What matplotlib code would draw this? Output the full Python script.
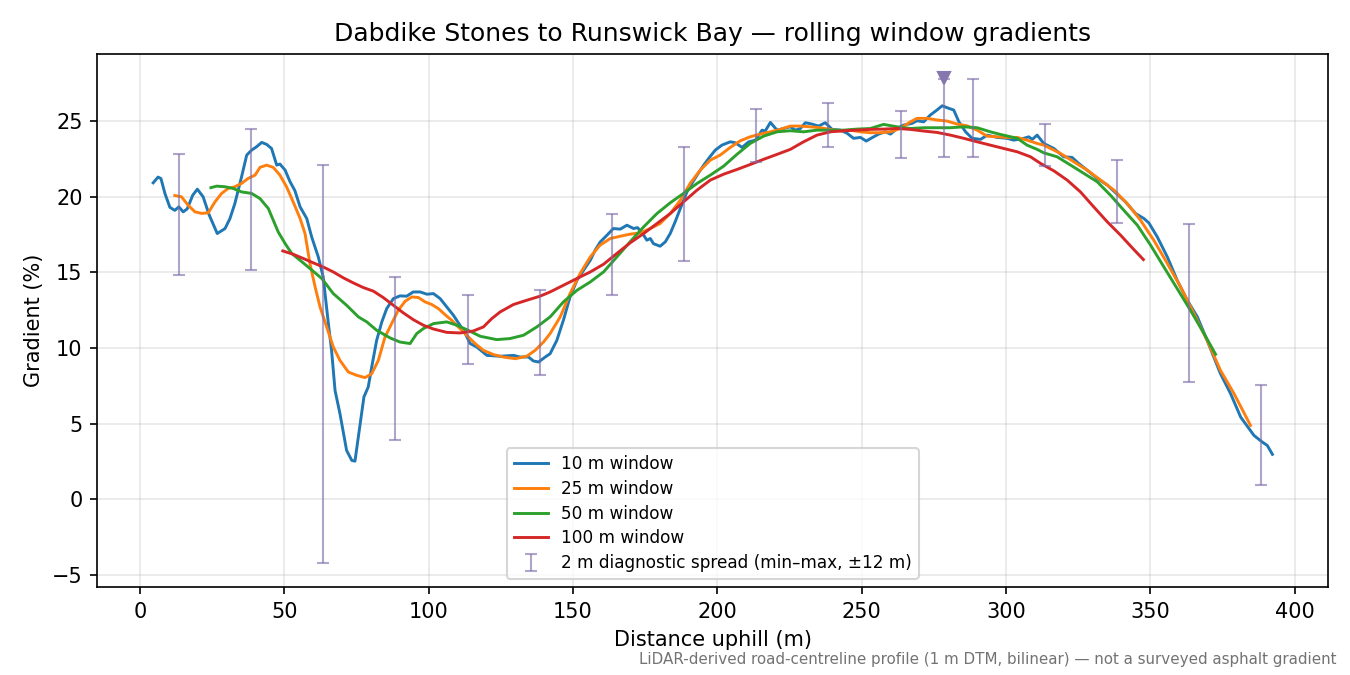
import matplotlib
matplotlib.use("Agg")
import matplotlib.pyplot as plt

# ---- data ----
x10 = [4.6, 6.3, 7.3, 8.7, 10.4, 12.1, 13.5, 15.0, 16.4, 18.3, 19.9, 21.9, 24.0, 26.8, 29.5, 31.2, 32.9,
       35.2, 37.0, 38.7, 40.4, 42.2, 43.9, 45.6, 47.4, 48.5, 50.3, 52.0, 53.7, 55.5, 57.8, 59.5, 61.8,
       63.5, 65.3, 66.4, 67.6, 69.3, 71.6, 73.4, 74.5, 76.3, 77.6, 79.1, 80.3, 82.0, 83.8, 85.5, 87.8,
       90.1, 92.4, 94.7, 97.1, 99.4, 101.7, 104.0, 106.3, 108.6, 110.9, 112.7, 114.4, 116.7, 120.2,
       124.8, 129.4, 131.7, 134.6, 136.3, 138.1, 140.4, 142.1, 144.4, 146.7, 149.0, 151.4, 153.7,
       156.0, 157.7, 159.4, 161.8, 164.0, 166.4, 168.7, 171.0, 172.4, 174.5, 175.6, 176.8, 177.9,
       180.2, 182.0, 183.7, 185.4, 187.2, 189.5, 191.2, 193.0, 195.3, 197.0, 199.3, 201.6, 204.5,
       206.2, 208.6, 210.9, 213.2, 215.5, 216.6, 218.4, 220.7, 223.0, 225.3, 227.0, 228.8, 230.5,
       232.8, 235.1, 237.4, 239.8, 242.6, 245.0, 247.2, 249.6, 251.6, 253.6, 255.9, 258.2, 260.0,
       262.3, 264.6, 267.5, 269.2, 271.5, 273.8, 276.1, 277.9, 280.2, 281.9, 283.7, 286.0, 288.3,
       291.2, 293.5, 297.0, 300.4, 302.7, 306.2, 307.9, 309.1, 310.8, 313.1, 316.6, 320.0, 322.9,
       325.2, 328.1, 331.6, 335.1, 338.0, 341.4, 344.9, 347.8, 349.5, 352.4, 355.9, 359.3, 362.8,
       366.3, 369.7, 372.0, 374.3, 377.8, 381.3, 384.2, 385.9, 388.8, 390.5, 392.3]
g10 = [20.92, 21.3, 21.2, 20.2, 19.3, 19.1, 19.33, 19.0, 19.2, 20.1, 20.5, 20.0, 18.8, 17.57, 17.9, 18.56,
       19.55, 21.3, 22.75, 23.08, 23.3, 23.59, 23.46, 23.19, 22.09, 22.16, 21.76, 21.0, 20.4, 19.33,
       18.56, 17.35, 16.02, 14.7, 11.6, 9.85, 7.2, 5.67, 3.24, 2.58, 2.53, 5.0, 6.77, 7.43, 8.75, 10.5,
       11.73, 12.61, 13.27, 13.45, 13.43, 13.71, 13.71, 13.56, 13.6, 13.27, 12.72, 12.17, 11.5, 10.96,
       10.3, 10.07, 9.52, 9.46, 9.52, 9.41, 9.41, 9.15, 9.08, 9.41, 9.63, 10.5, 11.84, 13.38, 14.48,
       15.15, 15.8, 16.47, 17.0, 17.46, 17.9, 17.86, 18.12, 17.9, 17.96, 17.46, 17.13, 17.24, 16.9,
       16.73, 17.02, 17.57, 18.34, 19.22, 20.32, 20.88, 21.43, 22.09, 22.53, 23.08, 23.41, 23.63,
       23.57, 23.26, 23.63, 23.74, 24.4, 24.34, 24.91, 24.4, 24.51, 24.62, 24.4, 24.51, 24.89, 24.8,
       24.67, 24.89, 24.45, 24.4, 24.19, 23.86, 23.92, 23.68, 23.9, 24.14, 24.29, 24.14, 24.51,
       24.74, 24.85, 25.02, 24.95, 25.4, 25.73, 26.01, 25.84, 25.73, 24.95, 24.29, 23.86, 23.79,
       24.07, 23.92, 23.86, 23.74, 23.86, 23.96, 23.79, 24.07, 23.52, 23.19, 22.64, 22.6, 22.2,
       21.76, 21.21, 20.77, 20.26, 19.66, 18.89, 18.56, 18.27, 17.35, 16.02, 14.48, 13.16, 12.06,
       10.5, 9.41, 8.31, 6.99, 5.44, 4.67, 4.23, 3.79, 3.57, 2.98]

x25 = [12.1, 14.4, 16.7, 19.1, 21.4, 23.7, 26.0, 28.3, 30.6, 32.9, 35.2, 37.5, 39.9, 41.6, 43.9, 46.2,
       48.5, 50.8, 53.1, 55.5, 57.2, 58.9, 60.7, 62.4, 64.7, 67.0, 69.3, 72.2, 75.1, 78.0, 80.3, 82.6,
       84.9, 87.2, 89.5, 91.9, 94.2, 96.5, 98.8, 101.1, 103.4, 105.7, 108.0, 110.3, 113.2, 116.1,
       119.0, 122.5, 125.9, 130.0, 134.0, 136.9, 139.8, 142.1, 145.6, 149.0, 152.5, 156.0, 159.4,
       162.9, 166.4, 169.8, 173.3, 176.8, 180.2, 183.7, 187.2, 190.6, 194.1, 197.6, 201.0, 204.5,
       208.0, 211.4, 214.9, 218.4, 221.8, 225.3, 228.8, 232.2, 235.7, 239.2, 242.6, 246.1, 249.6,
       253.0, 256.5, 260.0, 263.4, 266.9, 269.2, 272.7, 276.1, 279.6, 283.1, 286.5, 290.0, 293.5,
       297.0, 300.4, 303.9, 307.3, 310.8, 313.1, 318.9, 323.5, 328.1, 332.8, 337.4, 342.0, 346.6,
       351.2, 355.9, 360.5, 365.1, 369.7, 374.3, 379.0, 384.7]
g25 = [20.08, 20.0, 19.44, 19.0, 18.9, 18.94, 19.66, 20.22, 20.55, 20.66, 20.88, 21.21, 21.43, 21.94,
       22.09, 21.94, 21.43, 20.66, 19.66, 18.56, 17.57, 15.59, 14.04, 12.72, 11.4, 10.07, 9.19, 8.42,
       8.2, 8.05, 8.31, 9.19, 10.73, 11.62, 12.5, 13.1, 13.38, 13.34, 13.05, 12.88, 12.61, 12.21,
       11.84, 11.4, 10.85, 10.3, 9.85, 9.57, 9.41, 9.3, 9.46, 9.85, 10.4, 10.96, 12.06, 13.6, 14.93,
       16.02, 16.8, 17.24, 17.39, 17.53, 17.61, 17.9, 18.23, 18.89, 19.77, 20.88, 21.76, 22.42,
       22.75, 23.26, 23.7, 23.96, 24.14, 24.29, 24.45, 24.67, 24.67, 24.62, 24.56, 24.45, 24.34,
       24.4, 24.29, 24.23, 24.23, 24.29, 24.51, 24.95, 25.18, 25.18, 25.07, 25.0, 24.8, 24.69, 24.4,
       24.0, 23.96, 23.92, 23.92, 23.74, 23.52, 23.41, 22.86, 22.31, 21.76, 21.1, 20.44, 19.55,
       18.45, 17.13, 15.59, 14.04, 12.28, 10.5, 8.53, 6.99, 4.89]

x50 = [24.6, 26.6, 29.5, 32.3, 35.2, 38.7, 41.6, 44.5, 46.2, 47.9, 50.3, 52.6, 55.5, 58.9, 63.0, 67.0,
       71.6, 75.7, 78.6, 82.0, 86.7, 90.1, 93.6, 95.9, 98.2, 101.7, 106.3, 109.8, 113.2, 117.9, 123.6,
       128.2, 132.9, 137.5, 142.1, 146.7, 151.4, 156.0, 160.6, 165.2, 169.8, 174.5, 179.1, 183.7,
       188.3, 193.0, 197.6, 202.2, 206.8, 211.4, 216.0, 220.7, 225.3, 229.9, 234.5, 239.2, 243.8,
       248.4, 253.0, 257.6, 262.3, 266.9, 271.5, 276.1, 280.8, 285.4, 290.0, 294.6, 298.0, 303.9,
       307.3, 310.8, 313.1, 317.7, 322.4, 327.0, 331.6, 336.2, 340.8, 345.5, 350.1, 354.7, 359.3,
       363.9, 368.6, 372.6]
g50 = [20.6, 20.7, 20.66, 20.55, 20.32, 20.22, 19.88, 19.22, 18.45, 17.68, 16.91, 16.25, 15.8, 15.26,
       14.6, 13.6, 12.83, 12.06, 11.73, 11.18, 10.67, 10.4, 10.3, 10.96, 11.29, 11.62, 11.73, 11.51,
       11.22, 10.78, 10.56, 10.63, 10.85, 11.4, 12.06, 13.05, 13.82, 14.37, 15.03, 16.02, 17.02,
       18.01, 18.89, 19.6, 20.22, 20.88, 21.43, 22.02, 22.8, 23.52, 24.0, 24.29, 24.36, 24.29, 24.4,
       24.4, 24.4, 24.47, 24.51, 24.78, 24.62, 24.51, 24.56, 24.56, 24.56, 24.62, 24.56, 24.29,
       24.12, 23.86, 23.41, 23.13, 22.9, 22.64, 22.09, 21.54, 20.99, 20.1, 19.11, 18.12, 16.8, 15.36,
       13.93, 12.5, 10.96, 9.59]

x100 = [49.5, 53.1, 56.6, 60.1, 63.5, 67.0, 70.5, 73.9, 77.4, 80.9, 84.3, 87.8, 91.3, 94.7, 98.2,
        101.7, 106.3, 110.9, 115.5, 119.0, 121.9, 124.8, 129.4, 134.0, 138.6, 142.1, 146.7, 151.4,
        156.0, 160.6, 165.2, 169.8, 174.5, 179.1, 183.7, 188.3, 193.0, 197.6, 202.2, 206.8, 211.4,
        216.0, 220.7, 225.3, 229.9, 234.5, 239.2, 243.8, 248.4, 253.0, 257.6, 262.3, 266.9, 271.5,
        276.1, 280.8, 285.4, 290.0, 294.6, 299.2, 303.9, 308.5, 312.0, 316.6, 321.2, 325.8, 330.4,
        335.1, 339.7, 344.3, 347.6]
g100 = [16.42, 16.2, 15.92, 15.63, 15.36, 15.03, 14.64, 14.31, 14.0, 13.76, 13.34, 12.83, 12.32, 11.88,
        11.51, 11.26, 11.04, 11.0, 11.13, 11.4, 11.95, 12.39, 12.88, 13.16, 13.43, 13.71, 14.15,
        14.6, 15.03, 15.54, 16.25, 16.95, 17.57, 18.23, 18.89, 19.66, 20.44, 21.1, 21.49, 21.8,
        22.13, 22.47, 22.8, 23.13, 23.63, 24.07, 24.29, 24.36, 24.4, 24.45, 24.47, 24.51, 24.45,
        24.34, 24.25, 24.07, 23.86, 23.63, 23.41, 23.19, 22.97, 22.64, 22.2, 21.71, 21.1, 20.32,
        19.33, 18.34, 17.46, 16.51, 15.85]

spread_x = [13.5, 38.5, 63.5, 88.5, 113.5, 138.5, 163.5, 188.5, 213.5, 238.5, 263.5, 278.5, 288.5,
            313.5, 338.5, 363.5, 388.5]
spread_min = [14.8, 15.15, -4.2, 3.92, 8.95, 8.2, 13.5, 15.76, 22.31, 23.28, 22.57, 22.64, 22.64,
              22.04, 18.27, 7.74, 0.93]
spread_max = [22.85, 24.47, 22.09, 14.68, 13.49, 13.82, 18.85, 23.28, 25.82, 26.19, 25.68, 27.75,
              27.78, 24.82, 22.42, 18.19, 7.54]

peak_x = [278.5]
peak_y = [27.83]

series = [
    (x10, g10, "10 m window", "C0"),
    (x25, g25, "25 m window", "C1"),
    (x50, g50, "50 m window", "C2"),
    (x100, g100, "100 m window", "C3"),
]

# ---- plot ----
fig, ax = plt.subplots(figsize=(9, 4.5), dpi=150)
fig.subplots_adjust(left=0.072, right=0.984, top=0.92, bottom=0.13)

for xs, ys, lab, col in series:
    ax.plot(xs, ys, color=col, lw=1.4, label=lab)

mid = [(a + b) / 2 for a, b in zip(spread_min, spread_max)]
err_lo = [m - a for m, a in zip(mid, spread_min)]
err_hi = [b - m for m, b in zip(mid, spread_max)]
ax.errorbar(spread_x, mid, yerr=[err_lo, err_hi], fmt="none", ecolor="#7b68a6",
            alpha=0.6, elinewidth=1.0, capsize=3,
            label="2 m diagnostic spread (min\u2013max, \u00b112 m)")
ax.plot(peak_x, peak_y, marker="v", ls="none", color="#8677ad", markersize=6, zorder=5)

ax.grid(True, alpha=0.3)
ax.set_xlabel("Distance uphill (m)")
ax.set_ylabel("Gradient (%)")
ax.set_title("Dabdike Stones to Runswick Bay \u2014 rolling window gradients", fontsize=12)
ax.legend(loc="lower center", fontsize=8.1, labelspacing=0.4)

fig.text(0.99, 0.012, "LiDAR-derived road-centreline profile (1 m DTM, bilinear) \u2014 not a surveyed asphalt gradient",
         ha="right", va="bottom", fontsize=7.25, color="0.45")

fig.savefig("out.png", dpi=150)
